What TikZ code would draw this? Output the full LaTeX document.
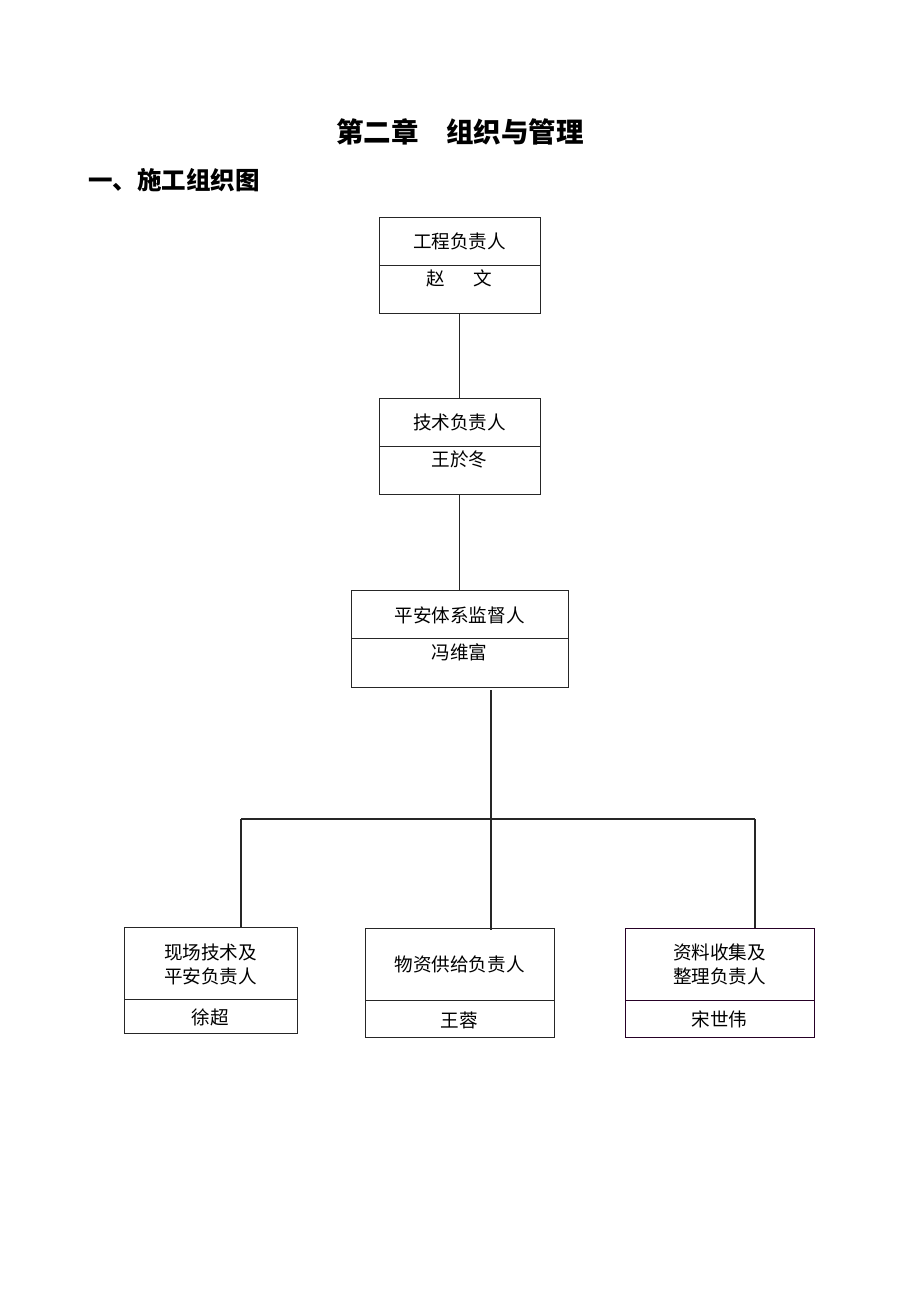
\documentclass[tikz,border=0pt]{standalone}
\usepackage{fontspec}
\setmainfont{Noto Sans CJK SC}
\newfontfamily\cjk{Noto Sans CJK SC}
\begin{document}
\begin{tikzpicture}[x=1pt,y=-1pt,
  boxline/.style={draw=black!85,line width=1pt},
  conn/.style={draw=black!85,line width=1.2pt},
  lbl/.style={inner sep=0pt,font=\fontsize{18.6}{24}\selectfont,align=center},
  ttl/.style={inner sep=0pt,font=\fontsize{27.5}{30}\selectfont\bfseries},
  hd/.style={inner sep=0pt,font=\fontsize{24.5}{28}\selectfont\bfseries,anchor=west}]
\useasboundingbox[fill=white] (0,0) rectangle (920,1302);
\node[ttl] (title) at (460,132) {第二章\hspace{1em}组织与管理};
\node[hd] (head) at (88,180) {一、施工组织图};
% box 1
\node[boxline,minimum width=161pt,minimum height=96pt,inner sep=0pt] (b1) at (459.5,265) {};
\draw[boxline] (379,265) -- (540,265);
\node[lbl] (b1t) at (459.5,241) {工程负责人};
\node[lbl] (b1n) at (459.5,278) {赵\hspace{1.5em}文};
% box 2
\node[boxline,minimum width=161pt,minimum height=96pt,inner sep=0pt] (b2) at (459.5,446) {};
\draw[boxline] (379,446) -- (540,446);
\node[lbl] (b2t) at (459.5,422) {技术负责人};
\node[lbl] (b2n) at (459.5,459) {王於冬};
% box 3
\node[boxline,minimum width=217pt,minimum height=97pt,inner sep=0pt] (b3) at (459.5,638.5) {};
\draw[boxline] (351,638) -- (568,638);
\node[lbl] (b3t) at (459.5,615) {平安体系监督人};
\node[lbl] (b3n) at (459.5,652) {冯维富};
% bottom boxes
\node[boxline,minimum width=173pt,minimum height=106pt,inner sep=0pt] (l) at (210.5,980) {};
\draw[boxline] (124,999) -- (297,999);
\node[lbl] (lt) at (210.5,964.5) {现场技术及\\平安负责人};
\node[lbl] (ln) at (210.5,1017) {徐超};
\node[boxline,minimum width=189pt,minimum height=109pt,inner sep=0pt] (m) at (459.5,982.5) {};
\draw[boxline] (365,1000) -- (554,1000);
\node[lbl] (mt) at (459.5,964) {物资供给负责人};
\node[lbl] (mn) at (459.5,1020) {王蓉};
\node[boxline,draw=black!70!violet,minimum width=189pt,minimum height=109pt,inner sep=0pt] (r) at (719.5,982.5) {};
\draw[boxline,draw=black!70!violet] (625,1000) -- (814,1000);
\node[lbl] (rt) at (719.5,964.5) {资料收集及\\整理负责人};
\node[lbl] (rn) at (719.5,1019) {宋世伟};
% connectors
\coordinate (jl) at (241,819);
\coordinate (jr) at (755,819);
\coordinate (jtop) at (491,690);
\coordinate (jbot) at (491,930);
\draw[conn] (b1.south) -- (b2.north);
\draw[conn] (b2.south) -- (b3.north);
\draw[conn] (jtop) -- (jbot);
\draw[conn] (jl) -- (jr);
\draw[conn] (jl) -- (jl |- l.north);
\draw[conn] (jr) -- (jr |- r.north);
\end{tikzpicture}
\end{document}
